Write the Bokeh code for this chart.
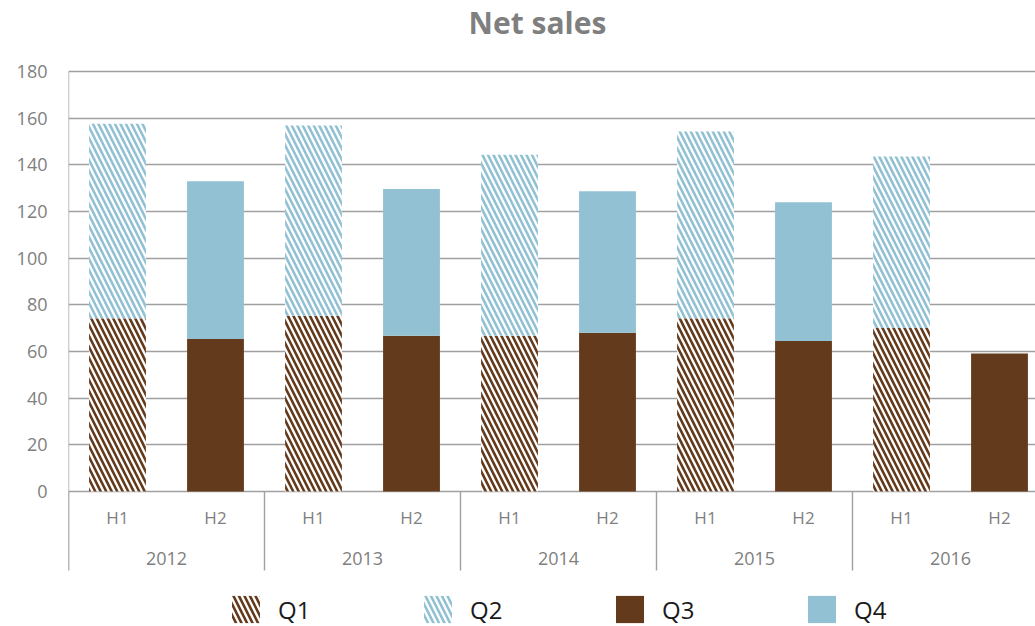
from bokeh.plotting import figure
from bokeh.models import (Range1d, FixedTicker, Legend, LegendItem, Label,
                          ColumnDataSource)
from bokeh.core.properties import value
from bokeh.embed import file_html
from bokeh.resources import INLINE

years = ["2012", "2013", "2014", "2015", "2016"]
halves = ["H1", "H2"]
q1 = [74.3, 75.3, 66.7, 74.3, 70.1]
q2 = [83.3, 81.6, 77.6, 80.0, 73.5]
q3 = [65.4, 66.7, 68.0, 64.5, 59.1]
q4 = [67.6, 62.9, 60.7, 59.5, 0.0]
y_ticks = [0, 20, 40, 60, 80, 100, 120, 140, 160, 180]

BROWN = "#643a1d"
BLUE = "#92c1d3"
GRAY = "#a0a0a0"
TXT = "#808080"
FONT = "Open Sans"

# layout (pixels)
W_FIG, H_FIG = 1035, 626
LEFT = 68
FRAME_W = W_FIG - LEFT
FRAME_H = H_FIG
CAT_PX = 98.0                 # width of one H1/H2 slot
Y_PX = 420.0 / 180.0          # pixels per unit of sales
ZERO_FROM_BOTTOM = 135.0      # px between value 0 and the figure bottom
SEP_PX = 79.0                 # length of category separators below 0
H_LABEL_PX = 26.0             # H1/H2 label centre below 0
YEAR_LABEL_PX = 67.0          # year label centre below 0

n = len(years)
h1_x = [2 * i + 0.5 for i in range(n)]
h2_x = [2 * i + 1.5 for i in range(n)]
slot_x = [v for pair in zip(h1_x, h2_x) for v in pair]
slot_labels = [h for y in years for h in halves]
year_x = [2 * i + 1 for i in range(n)]
sep_x = [2 * i for i in range(n)]

y0 = -ZERO_FROM_BOTTOM / Y_PX
y1 = y0 + FRAME_H / Y_PX

src1 = ColumnDataSource(dict(x=h1_x, b1=[0] * n, t1=q1,
                             b2=q1, t2=[a + b for a, b in zip(q1, q2)]))
src2 = ColumnDataSource(dict(x=h2_x, b3=[0] * n, t3=q3,
                             b4=q3, t4=[a + b for a, b in zip(q3, q4)]))

p = figure(width=W_FIG, height=H_FIG, output_backend="svg", toolbar_location=None,
           x_range=Range1d(0, FRAME_W / CAT_PX), y_range=Range1d(y0, y1),
           x_axis_location=None, min_border_left=LEFT, min_border_right=0,
           min_border_top=0, min_border_bottom=0)
p.outline_line_color = None
p.background_fill_color = "white"

# grid
p.ygrid.ticker = FixedTicker(ticks=y_ticks)
p.ygrid.grid_line_color = GRAY
p.ygrid.grid_line_width = 1.4
p.xgrid.visible = False

# y axis (labels only; the axis line is drawn as a segment so it stops
# where the category area ends)
ya = p.yaxis[0]
ya.ticker = FixedTicker(ticks=y_ticks)
ya.axis_line_color = None
ya.major_tick_line_color = None
ya.minor_tick_line_color = None
ya.major_tick_out = 0
ya.major_tick_in = 0
ya.major_label_text_font = FONT
ya.major_label_text_font_size = "18px"
ya.major_label_text_color = TXT
ya.major_label_standoff = 21

sep_bottom = -SEP_PX / Y_PX
p.segment(x0=sep_x, x1=sep_x, y0=[0] * n, y1=[sep_bottom] * n,
          line_color=GRAY, line_width=1.4)
p.segment(x0=[0], x1=[0], y0=[sep_bottom], y1=[max(y_ticks)],
          line_color=GRAY, line_width=1.4)

# bars
W = 0.58
r1 = p.vbar(x="x", bottom="b1", top="t1", width=W, source=src1,
            fill_color="white", line_color=None, hatch_pattern="\\",
            hatch_color=BROWN, hatch_scale=11, hatch_weight=2.6)
r2 = p.vbar(x="x", bottom="b2", top="t2", width=W, source=src1,
            fill_color="white", line_color=None, hatch_pattern="\\",
            hatch_color=BLUE, hatch_scale=11, hatch_weight=2.6)
r3 = p.vbar(x="x", bottom="b3", top="t3", width=W, source=src2,
            fill_color=BROWN, line_color=None)
r4 = p.vbar(x="x", bottom="b4", top="t4", width=W, source=src2,
            fill_color=BLUE, line_color=None)

# category labels
p.text(x=slot_x, y=[-H_LABEL_PX / Y_PX] * len(slot_x), text=slot_labels,
       text_font=value(FONT), text_font_size="17px", text_color=TXT,
       text_align="center", text_baseline="middle")
p.text(x=year_x, y=[-YEAR_LABEL_PX / Y_PX] * n, text=years,
       text_font=value(FONT), text_font_size="18px", text_color=TXT,
       text_align="center", text_baseline="middle")

# title
p.add_layout(Label(x=469, y=FRAME_H - 22, x_units="screen", y_units="screen",
                   text="Net sales", text_font=FONT, text_font_style="bold",
                   text_font_size="30px", text_color="#7f7f7f",
                   text_align="center", text_baseline="middle"))

legend = Legend(items=[LegendItem(label="Q1", renderers=[r1]),
                       LegendItem(label="Q2", renderers=[r2]),
                       LegendItem(label="Q3", renderers=[r3]),
                       LegendItem(label="Q4", renderers=[r4])],
                location=(160, 0), orientation="horizontal",
                glyph_width=35, glyph_height=34, label_standoff=15,
                label_width=34, spacing=108, padding=0, margin=0,
                border_line_color=None, background_fill_alpha=0,
                label_text_font=FONT, label_text_font_size="24px",
                label_text_color="#1a1a1a")
p.add_layout(legend, "center")

open("out.html", "w").write(file_html(p, INLINE))
